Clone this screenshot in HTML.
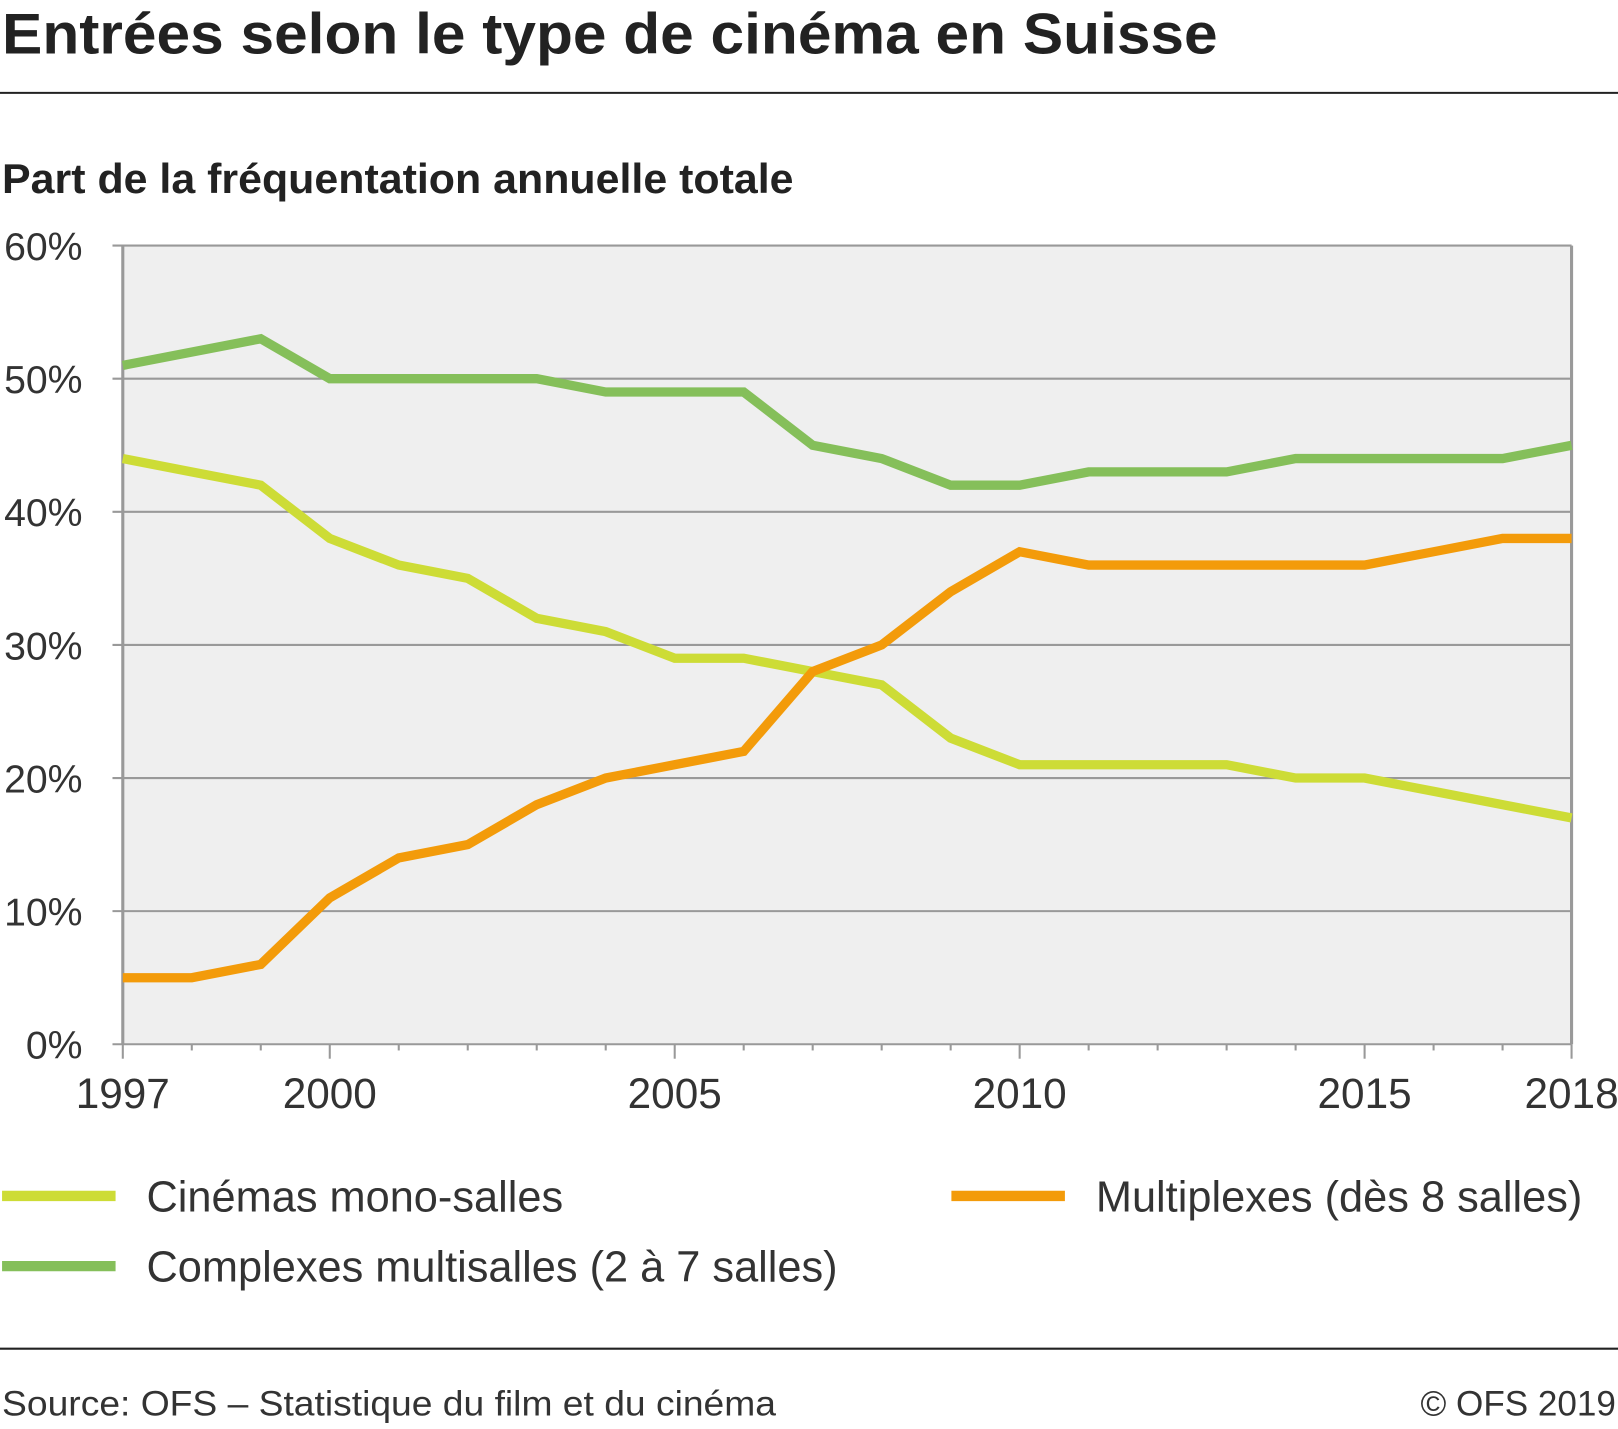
<!DOCTYPE html>
<html><head><meta charset="utf-8"><style>
body{margin:0;background:#fff;width:1618px;height:1424px;overflow:hidden;font-family:"Liberation Sans",sans-serif}
</style></head><body>
<svg width="1618" height="1424" viewBox="0 0 1568 1380" preserveAspectRatio="none" xmlns="http://www.w3.org/2000/svg" font-family="Liberation Sans, sans-serif">
<text x="2" y="52" font-size="56" font-weight="bold" fill="#222" textLength="1178" lengthAdjust="spacingAndGlyphs">Entrées selon le type de cinéma en Suisse</text>
<line x1="0" y1="90" x2="1568" y2="90" stroke="#222" stroke-width="2"/>
<text x="2" y="187" font-size="40" font-weight="bold" fill="#222" textLength="767" lengthAdjust="spacingAndGlyphs">Part de la fréquentation annuelle totale</text>
<g id="plot"></g>
<line x1="0" y1="1307" x2="1568" y2="1307" stroke="#222" stroke-width="2"/>
<text x="2" y="1372" font-size="34" fill="#333" textLength="750" lengthAdjust="spacingAndGlyphs">Source: OFS – Statistique du film et du cinéma</text>
<text x="1566" y="1372" font-size="34" fill="#333" text-anchor="end">© OFS 2019</text>
</svg>
<script>
const years=[1997,1998,1999,2000,2001,2002,2003,2004,2005,2006,2007,2008,2009,2010,2011,2012,2013,2014,2015,2016,2017,2018];
const mono=[44,43,42,38,36,35,32,31,29,29,28,27,23,21,21,21,21,20,20,19,18,17];
const complexes=[51,52,53,50,50,50,50,49,49,49,45,44,42,42,43,43,43,44,44,44,44,45];
const multiplexes=[5,5,6,11,14,15,18,20,21,22,28,30,34,37,36,36,36,36,36,37,38,38];
const yTicks=[0,10,20,30,40,50,60];
const xLabels=[1997,2000,2005,2010,2015,2018];
const NS="http://www.w3.org/2000/svg";
const X0=119,X1=1523,Y0=1012,Y1=238;
const x=v=>X0+(v-1997)/(2018-1997)*(X1-X0);
const y=v=>Y0-v/60*(Y0-Y1);
const g=document.getElementById('plot');
function mk(t,a){const e=document.createElementNS(NS,t);for(const k in a)e.setAttribute(k,a[k]);g.appendChild(e);return e;}
let bg=mk('rect',{x:X0,y:Y1,width:X1-X0,height:Y0-Y1,fill:'#efefef'});


yTicks.forEach(t=>{
 let l=mk('line',{x1:X0-10,x2:X1,y1:y(t),y2:y(t),stroke:'#999','stroke-width':2});
 
 
 let tx=mk('text',{x:80,y:y(t)+14,'font-size':38,'text-anchor':'end',fill:'#333'});
 tx.textContent=t+'%';
 
 
});
let ax=mk('line',{x1:X0,x2:X0,y1:Y1,y2:Y0,stroke:'#999','stroke-width':3});


let ax2=mk('line',{x1:X1,x2:X1,y1:Y1,y2:Y0,stroke:'#999','stroke-width':3});


years.forEach(yr=>{
 const big=xLabels.includes(yr);
 let t=mk('line',{x1:x(yr),x2:x(yr),y1:Y0,y2:Y0+(big?14:6),stroke:'#999','stroke-width':2});
 
 
});
xLabels.forEach(yr=>{
 let tx=mk('text',{x:x(yr),y:1074,'font-size':41,'text-anchor':'middle',fill:'#333'});
 tx.textContent=yr;
 
 
});
function line(vals,col,name){
 let p=mk('polyline',{points:vals.map((v,i)=>x(years[i])+','+y(v)).join(' '),fill:'none',stroke:col,'stroke-width':9,'stroke-linejoin':'miter'});
 
 
}
line(complexes,'#85bf5a','line-complexes');
line(mono,'#cddc36','line-mono');
line(multiplexes,'#f39b0a','line-multiplexes');
function leg(lx,ly,col,label,name){
 let r=mk('line',{x1:lx,x2:lx+110,y1:ly,y2:ly,stroke:col,'stroke-width':10});
 
 
 let t=mk('text',{x:lx+140,y:ly+15,'font-size':42,fill:'#333'});
 t.textContent=label;
 
 
}
leg(2,1159,'#cddc36','Cinémas mono-salles','legend-mono');
leg(922,1159,'#f39b0a','Multiplexes (dès 8 salles)','legend-multiplexes');
leg(2,1227,'#85bf5a','Complexes multisalles (2 à 7 salles)','legend-complexes');
</script>
</body></html>
